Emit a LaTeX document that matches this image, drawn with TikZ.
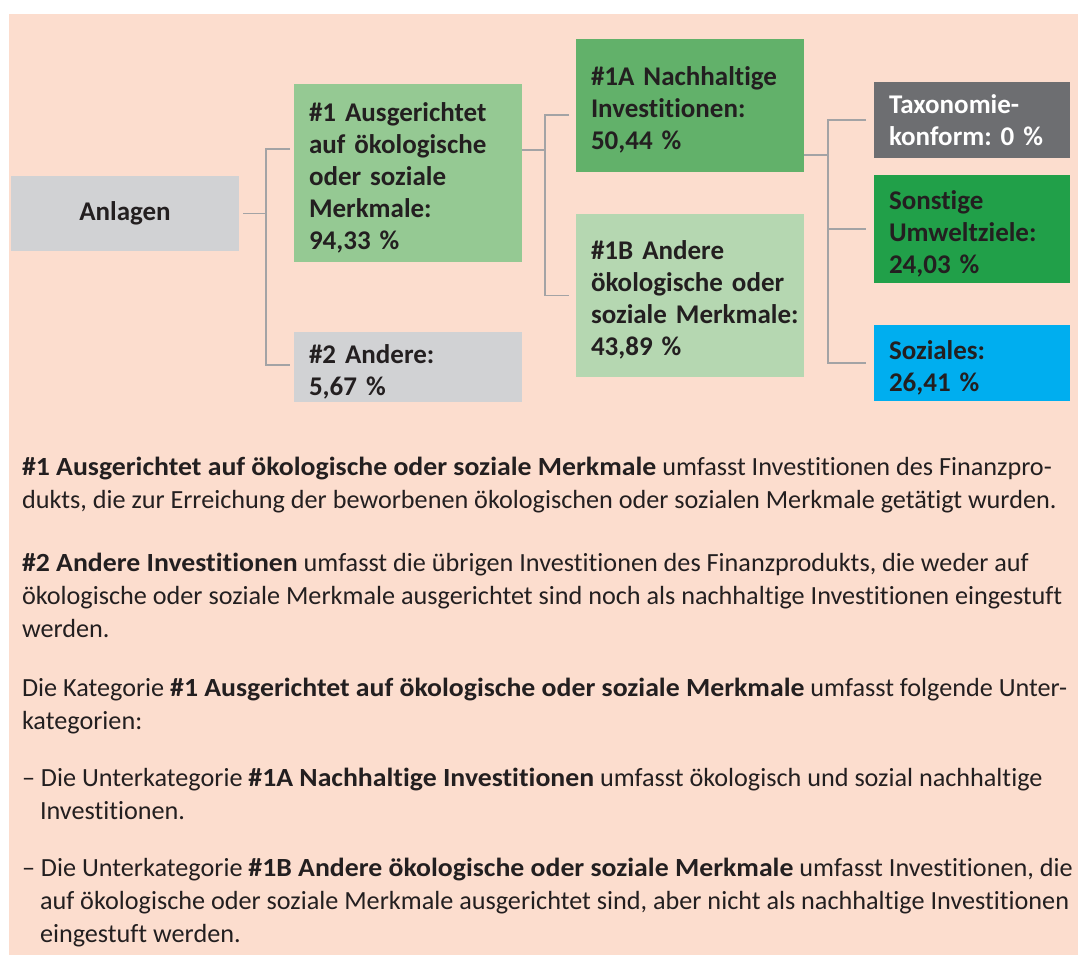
\documentclass[tikz,border=0pt]{standalone}
\usepackage{fontspec}
\setmainfont{Carlito}[Ligatures={NoCommon}]
\newfontface\bodybold{Carlito Bold}[Ligatures={NoCommon},FakeStretch=1.06]
\newcommand\bb[1]{{\bodybold #1}}
\newcommand\fl{\rule{0pt}{28pt}}
\frenchspacing
\definecolor{peach}{HTML}{FCDDCE}
\definecolor{boxgray}{HTML}{D1D2D4}
\definecolor{green1}{HTML}{95C993}
\definecolor{green1a}{HTML}{62B16A}
\definecolor{green1b}{HTML}{B5D7B1}
\definecolor{taxgray}{HTML}{6D6E71}
\definecolor{umwelt}{HTML}{21A049}
\definecolor{sozblue}{HTML}{00AEEF}
\definecolor{linegray}{HTML}{A3A3A5}
\definecolor{ink}{HTML}{231F20}
\tikzset{
  boxnode/.style={draw=none, inner xsep=15pt, inner ysep=0pt, outer sep=0pt,
    anchor=north west, align=left, text=ink,
    font=\fontsize{27}{32}\selectfont\bfseries\frenchspacing},
  conn/.style={draw=linegray, line width=1.3pt},
  bodyline/.style={anchor=base west, inner sep=0pt, outer sep=0pt, text=ink,
    font=\fontsize{26.2}{33}\selectfont\frenchspacing}
}
\begin{document}
\begin{tikzpicture}[x=1pt,y=-1pt]
\useasboundingbox (0,0) rectangle (1078,955);
\fill[white] (0,0) rectangle (1078,955);
\fill[peach] (9,14) rectangle (1078,955);

% boxes
\node[boxnode, fill=boxgray, text width=198pt, minimum height=75pt, align=center] (anl) at (11,176) {Anlagen};
\node[boxnode, fill=green1, text width=198pt, minimum height=178pt] (n1) at (294,84)
  {\mbox{\fl\#1 Ausgerichtet}\\\mbox{auf ökologische}\\\mbox{oder soziale}\\\mbox{Merkmale:}\\\mbox{94,33 \%}};
\node[boxnode, fill=boxgray, text width=198pt, minimum height=70pt] (n2) at (294,332)
  {\mbox{\fl\#2 Andere:}\\\mbox{5,67 \%}};
\node[boxnode, fill=green1a, text width=198pt, minimum height=133pt] (n1a) at (576,39)
  {\mbox{\fl\#1A Nachhaltige}\\\mbox{Investitionen:}\\\mbox{50,44 \%}};
\node[boxnode, fill=green1b, text width=198pt, minimum height=163pt] (n1b) at (576,214)
  {\mbox{\fl\#1B Andere}\\\mbox{ökologische oder}\\\mbox{soziale Merkmale:}\\\mbox{43,89 \%}};
\node[boxnode, fill=taxgray, text=white, text width=166pt, minimum height=76pt] (tax) at (874,82)
  {\mbox{Taxonomie-}\\\mbox{konform: 0 \%}};
\node[boxnode, fill=umwelt, text width=166pt, minimum height=108pt] (umw) at (874,175)
  {\mbox{\fl Sonstige}\\\mbox{Umweltziele:}\\\mbox{24,03 \%}};
\node[boxnode, fill=sozblue, text width=166pt, minimum height=76pt] (soz) at (874,325)
  {\mbox{\fl Soziales:}\\\mbox{26,41 \%}};

% connectors
\draw[conn] ([xshift=4pt]anl.east) -- ++(23,0) coordinate (j1);
\draw[conn] ([xshift=-4pt,yshift=24pt]n1.west) -| (j1) |- ([xshift=-4pt,yshift=2pt]n2.west);
\draw[conn] ([yshift=23pt]n1.east) -- ++(23,0) coordinate (j2);
\draw[conn] ([xshift=-7pt,yshift=-9.5pt]n1a.west) -| (j2) |- ([xshift=-7pt]n1b.west);
\draw[conn] ([yshift=-49.5pt]n1a.east) -- ++(24,0) coordinate (j3);
\draw[conn] ([xshift=-8pt]tax.west) -| (j3) |- ([xshift=-8pt]soz.west);
\draw[conn] (j3 |- umw.west) -- ([xshift=-8pt]umw.west);

% body text
\node[bodyline] (t1) at (22,475) {\bb{\#1 Ausgerichtet auf ökologische oder soziale Merkmale} umfasst Investitionen des Finanzpro-};
\node[bodyline] (t2) at (22,508) {dukts, die zur Erreichung der beworbenen ökologischen oder sozialen Merkmale getätigt wurden.};
\node[bodyline] (t3) at (22,571) {\bb{\#2 Andere Investitionen} umfasst die übrigen Investitionen des Finanzprodukts, die weder auf};
\node[bodyline] (t4) at (22,604) {ökologische oder soziale Merkmale ausgerichtet sind noch als nachhaltige Investitionen eingestuft};
\node[bodyline] (t5) at (22,637) {werden.};
\node[bodyline] (t6) at (22,696) {Die Kategorie \bb{\#1 Ausgerichtet auf ökologische oder soziale Merkmale} umfasst folgende Unter-};
\node[bodyline] (t7) at (22,729) {kategorien:};
\node[bodyline] (t8) at (22,786) {– Die Unterkategorie \bb{\#1A Nachhaltige Investitionen} umfasst ökologisch und sozial nachhaltige};
\node[bodyline] (t9) at (40,819) {Investitionen.};
\node[bodyline] (t10) at (22,876) {– Die Unterkategorie \bb{\#1B Andere ökologische oder soziale Merkmale} umfasst Investitionen, die};
\node[bodyline] (t11) at (40,909) {auf ökologische oder soziale Merkmale ausgerichtet sind, aber nicht als nachhaltige Investitionen};
\node[bodyline] (t12) at (40,942) {eingestuft werden.};
\end{tikzpicture}
\end{document}
